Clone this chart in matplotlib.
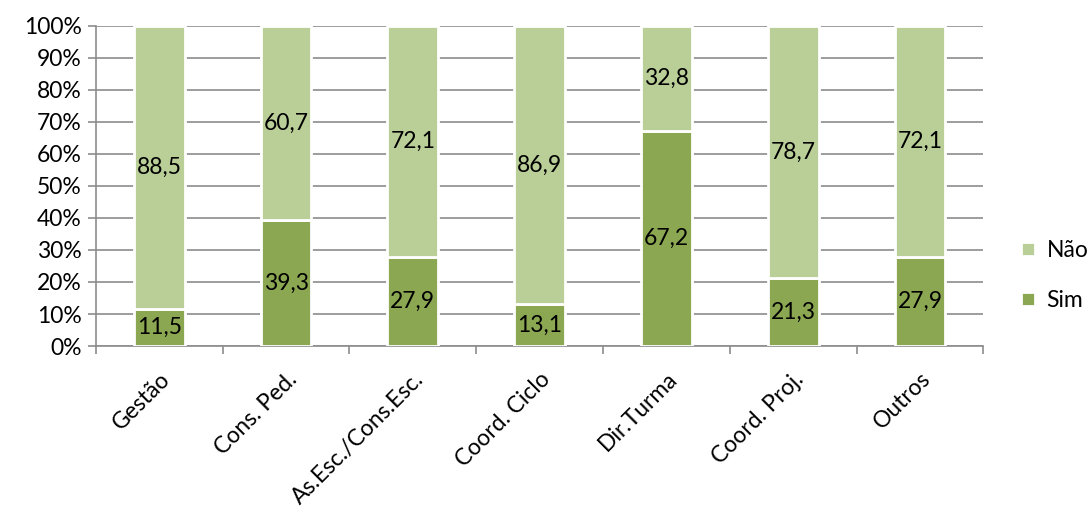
import matplotlib
matplotlib.use("Agg")
import matplotlib.pyplot as plt
import numpy as np

plt.rcParams['font.family'] = ['Lato', 'DejaVu Sans']

# categorias e percentagens (Sim / Não)
categorias = ['Gestão', 'Cons. Ped.', 'As.Esc./Cons.Esc.', 'Coord. Ciclo',
              'Dir.Turma', 'Coord. Proj.', 'Outros']
sim = [11.5, 39.3, 27.9, 13.1, 67.2, 21.3, 27.9]
nao = [88.5, 60.7, 72.1, 86.9, 32.8, 78.7, 72.1]

cor_sim = '#8BA752'
cor_nao = '#BACF98'
fs = 16.5

fig = plt.figure(figsize=(10.89, 5.18), dpi=100)
ax = fig.add_axes([0.088, 0.332, 0.815, 0.618])

x = np.arange(len(categorias))
b1 = ax.bar(x, sim, width=0.4, color=cor_sim, edgecolor='white', linewidth=2,
            label='Sim', zorder=3)
b2 = ax.bar(x, nao, width=0.4, bottom=sim, color=cor_nao, edgecolor='white',
            linewidth=2, label='Não', zorder=3)

for rect, v in zip(b1, sim):
    ax.text(rect.get_x() + rect.get_width() / 2, v / 2, f'{v:.1f}'.replace('.', ','),
            ha='center', va='center', fontsize=fs, zorder=4)
for rect, s, v in zip(b2, sim, nao):
    ax.text(rect.get_x() + rect.get_width() / 2, s + v / 2, f'{v:.1f}'.replace('.', ','),
            ha='center', va='center', fontsize=fs, zorder=4)

ax.set_xlim(-0.5, len(categorias) - 0.5)
ax.set_ylim(0, 100)
ax.set_yticks(np.arange(0, 101, 10))
ax.set_yticklabels([f'{v}%' for v in range(0, 101, 10)], fontsize=fs)
ax.yaxis.grid(True, color='#8c8c8c', linewidth=1.2, zorder=0)

# marcas do eixo x nas fronteiras das categorias
ax.set_xticks(np.arange(-0.5, len(categorias)), minor=False)
ax.set_xticklabels([])
ax.set_xticks(x, minor=True)
ax.set_xticklabels(categorias, minor=True, rotation=45, ha='right',
                   rotation_mode='anchor', fontsize=fs)
ax.tick_params(axis='x', which='minor', length=0, pad=16)
ax.tick_params(axis='x', which='major', length=6, color='#8c8c8c', width=1.2)
ax.tick_params(axis='y', length=6, color='#8c8c8c', width=1.2, pad=4)

for s in ['top', 'right']:
    ax.spines[s].set_visible(False)
for s in ['left', 'bottom']:
    ax.spines[s].set_color('#8c8c8c')
    ax.spines[s].set_linewidth(1.2)

h, l = ax.get_legend_handles_labels()
fig.legend(h[::-1], l[::-1], loc='center left', bbox_to_anchor=(0.938, 0.468),
           frameon=False, fontsize=fs, handlelength=0.6, handleheight=0.6,
           labelspacing=1.25, handletextpad=0.5, borderpad=0, borderaxespad=0)

fig.savefig('out.png', dpi=100)
